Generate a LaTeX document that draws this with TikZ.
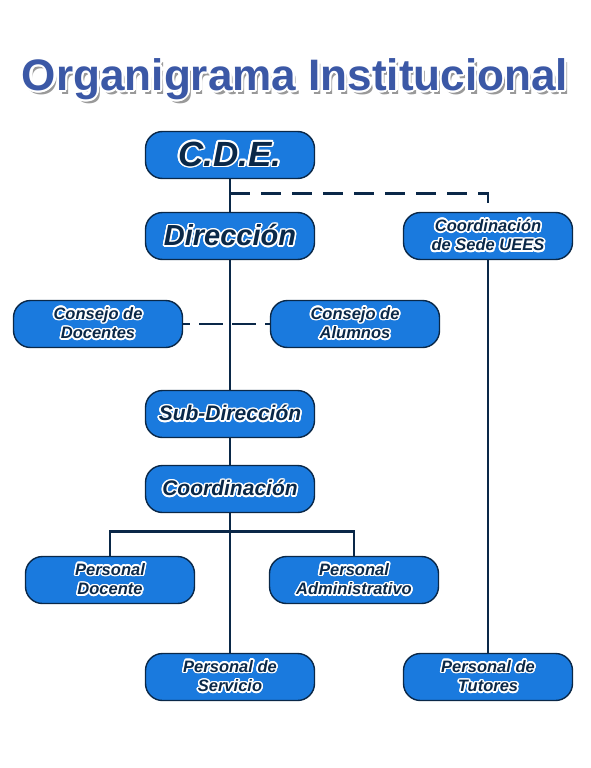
\documentclass[tikz,border=0pt]{standalone}
\usepackage{fontspec}
\setmainfont{Liberation Sans}
\usepackage{contour}
\contourlength{1.6pt}
\usepackage{graphicx}
\definecolor{boxblue}{HTML}{1A7ADE}
\definecolor{linenavy}{HTML}{0A2848}
\definecolor{titleblue}{HTML}{3B58A6}
\newcommand{\wtext}[1]{\contour{white}{#1}}

\begin{document}
\begin{tikzpicture}[x=1pt,y=-1pt,
	box/.style={rounded corners=17pt,minimum width=169pt,minimum height=47pt,inner sep=0pt,draw=linenavy,line width=1.4pt,fill=boxblue,text=linenavy,align=center},
	big/.style={font=\fontsize{35}{37}\selectfont\bfseries\itshape},
	mid/.style={font=\fontsize{29}{31}\selectfont\bfseries\itshape},
	low/.style={font=\fontsize{21}{23}\selectfont\bfseries\itshape},
	small/.style={font=\fontsize{16.5}{19.5}\selectfont\bfseries\itshape},
	link/.style={draw=linenavy,line width=2.8pt},
	dashlink/.style={link,dash pattern=on 20pt off 11pt}]

	\useasboundingbox[fill=white] (0,0) rectangle (590,768);

	% title
	\node[anchor=base,text=black!40] (titleshadow) at (298,94) {\fontsize{44}{46}\selectfont\bfseries\resizebox{546pt}{!}{Organigrama Institucional}};
	\node[anchor=base,text=titleblue] (title) at (295,90) {\fontsize{44}{46}\selectfont\bfseries\resizebox{546pt}{!}{\contourlength{2.2pt}\contour{white}{Organigrama Institucional}}};

	% boxes
	\node[box,big] (cde) at (230,155) {\wtext{C.D.E.}};
	\node[box,mid] (dir) at (230,236) {\wtext{Dirección}};
	\node[box,small] (sede) at (488,236) {\wtext{Coordinación}\\\wtext{de Sede UEES}};
	\node[box,small] (docentes) at (98,324) {\wtext{Consejo de}\\\wtext{Docentes}};
	\node[box,small] (alumnos) at (355,324) {\wtext{Consejo de}\\\wtext{Alumnos}};
	\node[box,low] (subdir) at (230,414) {\wtext{Sub-Dirección}};
	\node[box,low] (coord) at (230,489) {\wtext{Coordinación}};
	\node[box,small] (pdocente) at (110,580) {\wtext{Personal}\\\wtext{Docente}};
	\node[box,small] (padmin) at (354,580) {\wtext{Personal}\\\wtext{Administrativo}};
	\node[box,small] (pservicio) at (230,677) {\wtext{Personal de}\\\wtext{Servicio}};
	\node[box,small] (ptutores) at (488,677) {\wtext{Personal de}\\\wtext{Tutores}};

	% connectors
	\draw[link] (cde) -- (dir);
	\draw[link] (dir) -- (subdir);
	\draw[link] (subdir) -- (coord);
	\draw[link] (coord) -- (pservicio);
	\draw[link] (pdocente.north) -- ++(0,-24) -| (padmin.north);
	\draw[link] (sede) -- (ptutores);
	\draw[dashlink] ([yshift=-14pt]cde.south) -| (sede.north);
	\draw[dashlink,dash pattern=on 24pt off 9pt,dash phase=17pt] (docentes) -- (alumnos);

\end{tikzpicture}
\end{document}
